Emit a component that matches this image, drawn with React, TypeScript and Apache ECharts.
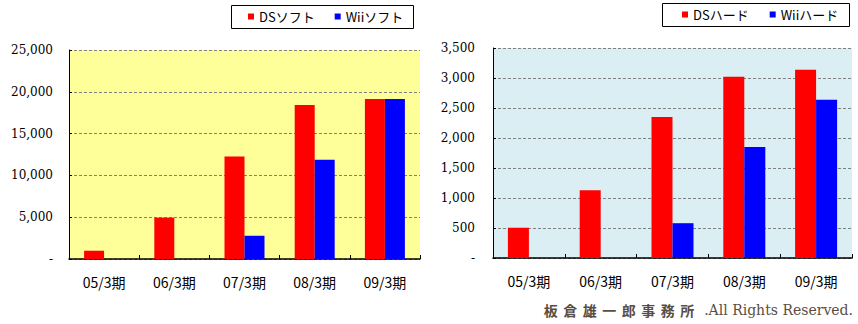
import React, { useEffect, useRef } from "react";
import * as echarts from "echarts";

const categories = ["05/3期", "06/3期", "07/3期", "08/3期", "09/3期"];
const dsSoft = [990, 4950, 12250, 18430, 19150];
const wiiSoft = [0, 0, 2780, 11860, 19150];
const dsHard = [505, 1130, 2350, 3020, 3137];
const wiiHard = [0, 0, 580, 1850, 2636];
const softAxis = { min: 0, max: 25000, interval: 5000 };
const hardAxis = { min: 0, max: 3500, interval: 500 };
const copyrightKanji = ["板", "倉", "雄", "一", "郎", "事", "務", "所"];
const copyrightLatin = " .All Rights Reserved.";

const fmt = (v: number) => (v === 0 ? "-" : v.toLocaleString("en-US"));

function yAxis(gridIndex: number, ax: { min: number; max: number; interval: number }, margin: number) {
  return {
    type: "value",
    gridIndex,
    min: ax.min,
    max: ax.max,
    interval: ax.interval,
    axisLine: { show: true, lineStyle: { color: "#000", width: 1 } },
    axisTick: { show: true, inside: true, length: 3, lineStyle: { color: "#000" } },
    axisLabel: {
      formatter: fmt,
      color: "#000",
      fontFamily: "DejaVu Serif",
      fontSize: 12,
      margin,
    },
    splitLine: { show: true, lineStyle: { color: "#808080", type: [3, 2], width: 1 } },
  };
}

function xAxis(gridIndex: number) {
  return {
    type: "category",
    gridIndex,
    data: categories,
    axisLine: { show: true, lineStyle: { color: "#000", width: 1.5 } },
    axisTick: { show: true, inside: true, length: 4, lineStyle: { color: "#000" } },
    axisLabel: {
      color: "#000",
      fontFamily: "Noto Sans CJK JP",
      fontSize: 14,
      margin: 16,
    },
    splitLine: { show: false },
  };
}

export default function App() {
  const ref = useRef<HTMLDivElement>(null);
  useEffect(() => {
    document.body.style.margin = "0";
    if (!ref.current) return;
    const chart = echarts.init(ref.current, null, { renderer: "svg" });
    const legendText = { color: "#000", fontFamily: "Noto Sans CJK JP", fontSize: 13 };
    chart.setOption({
      animation: false,
      backgroundColor: "#fff",
      grid: [
        { left: 69, top: 50, width: 351, height: 209, show: true, backgroundColor: "#FFFF99", borderWidth: 0 },
        { left: 493, top: 48, width: 359, height: 210, show: true, backgroundColor: "#DAEEF3", borderWidth: 0 },
      ],
      legend: [
        {
          data: ["DSソフト", "Wiiソフト"],
          left: 248,
          top: 10,
          padding: 0,
          itemGap: 20,
          itemWidth: 6,
          itemHeight: 6,
          icon: "rect",
          textStyle: legendText,
        },
        {
          data: ["DSハード", "Wiiハード"],
          left: 682,
          top: 8,
          padding: 0,
          itemGap: 21,
          itemWidth: 6,
          itemHeight: 6,
          icon: "rect",
          textStyle: legendText,
        },
      ],
      xAxis: [xAxis(0), xAxis(1)],
      yAxis: [yAxis(0, softAxis, 16), yAxis(1, hardAxis, 18)],
      series: [
        { name: "DSソフト", type: "bar", xAxisIndex: 0, yAxisIndex: 0, data: dsSoft, barWidth: 20, barGap: "0%", itemStyle: { color: "#FF0000" } },
        { name: "Wiiソフト", type: "bar", xAxisIndex: 0, yAxisIndex: 0, data: wiiSoft, barWidth: 20, barGap: "0%", itemStyle: { color: "#0000FF" } },
        { name: "DSハード", type: "bar", xAxisIndex: 1, yAxisIndex: 1, data: dsHard, barWidth: 21, barGap: "0%", itemStyle: { color: "#FF0000" } },
        { name: "Wiiハード", type: "bar", xAxisIndex: 1, yAxisIndex: 1, data: wiiHard, barWidth: 21, barGap: "0%", itemStyle: { color: "#0000FF" } },
      ],
      graphic: [
        { type: "rect", shape: { x: 231.5, y: 5.5, width: 182, height: 23 }, style: { fill: "none", stroke: "#000", lineWidth: 1 }, silent: true },
        { type: "rect", shape: { x: 662.5, y: 3.5, width: 187, height: 23 }, style: { fill: "none", stroke: "#000", lineWidth: 1 }, silent: true },
        {
          type: "text",
          x: 853,
          y: 310,
          style: {
            text: copyrightKanji.map((c) => "{k|" + c + "}").join("") + "{l|" + copyrightLatin + "}",
            align: "right",
            verticalAlign: "middle",
            rich: {
              k: { fontFamily: "Noto Sans CJK JP", fontWeight: "bold", fontSize: 14, fill: "#5a4e44", width: 19.5, align: "left" },
              l: { fontFamily: "DejaVu Serif", fontSize: 14, fill: "#5a4e44" },
            },
          },
        },
      ],
    });
    return () => chart.dispose();
  }, []);
  return <div ref={ref} style={{ width: 858, height: 324 }} />;
}
